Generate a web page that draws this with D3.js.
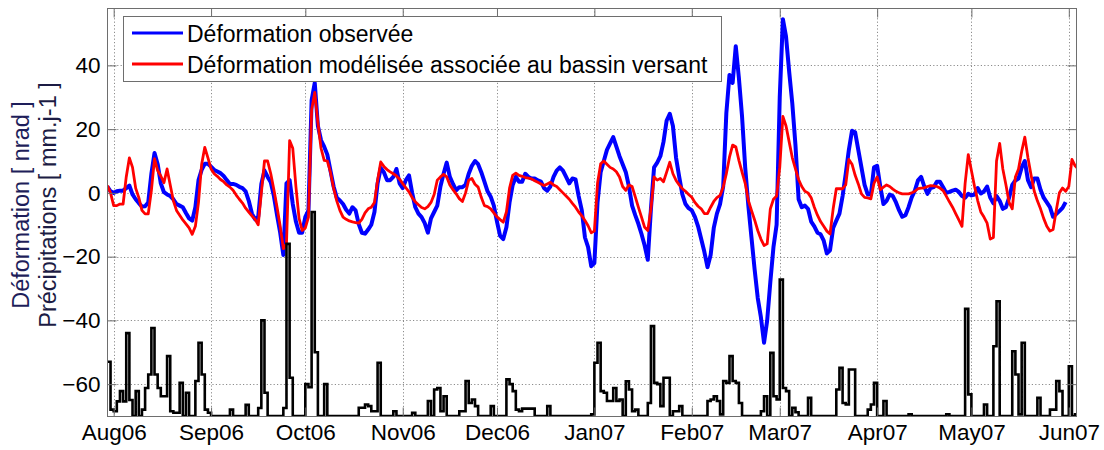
<!DOCTYPE html>
<html>
<head>
<meta charset="utf-8">
<script src="https://cdnjs.cloudflare.com/ajax/libs/d3/7.8.5/d3.min.js"></script>
<style>
  body { margin: 0; background: #fff; }
  svg { display: block; font-family: Arial, "Liberation Sans", sans-serif; }
</style>
</head>
<body>
<svg id="chart" width="1104" height="450"></svg>
<script>
// Daily series, first value on 30 Jul 2006
const firstDay = "2006-07-30";

// Observed tilt deformation [nrad]
const observed = [
  2, 0.5, 0, 0.5, 0.7, 0.7, 1.5, 2.3, -0.5, -2,
  -3.2, -4.3, -4.2, -3, 6, 12.5, 9, 3, 0.2, -0.5,
  -1, -2, -3.5, -4, -4.5, -6.3, -8, -8.7, -4.5, 4,
  7.2, 9.1, 9.1, 8.2, 7.2, 6.7, 6.2, 5.3, 4, 2.8,
  2.8, 2.5, 1.9, 1.5, 0.5, -2.5, -6.5, -8.3, -7.5, 2.8,
  7, 5, 3.3, -1, -7, -12.5, -19.5, 3, 4, -3.5,
  -9, -12.5, -12.5, -7.5, -5.5, 29, 34.5, 21, 16.5, 14.5,
  12, 7, 2, -1.5, -2.4, -3.5, -5.3, -6.5, -4.5, -5.5,
  -9.8, -12.5, -12.8, -11.5, -10, -6, 3, 7.8, 6.5, 4,
  4, 5, 7.5, 3, 1.5, 4, 5.5, 0, -4.5, -6.5,
  -7.6, -9.5, -12.5, -8, -6, -4, 2, 6, 9.5, 5,
  2.8, 0.8, 1.8, 1.8, 2.5, 6, 8.5, 10, 9, 6.5,
  3.5, 0.5, -1.2, -4, -9, -13.5, -14.5, -10.8, -3, 2.5,
  5, 3.5, 3.5, 6, 5, 4.5, 4.5, 3.9, 3.5, 1.5,
  0.7, 2, 5, 7, 8, 7, 5, 3, 4.5, 4.2,
  -1, -5.5, -14, -17, -23, -22, -3, 6.5, 10, 13.5,
  15.5, 17.5, 14.5, 11.5, 9, 6.5, 2, -4, -7, -9.7,
  -12.9, -16.5, -21, -5, 8, 9.5, 11.5, 16, 22.7, 24.8,
  21, 11, 5, -0.5, -3.5, -4.8, -5.5, -7.5, -10.5, -14.5,
  -18.5, -23.3, -19.5, -11, -6.5, -3.5, 2, 25, 37, 34.5,
  46, 36, 24, 8, -4, -14, -24, -33, -39, -47,
  -40, -28, -17, -10, 30, 54.5, 49, 38, 28, 15,
  -2, -4.5, -4, -5, -9, -10.5, -12.5, -13, -15, -19,
  -18, -11, -8.7, -6.5, -1, 6, 13.5, 19.5, 19, 13.5,
  8, 2.5, -0.5, -0.5, 8, 8.5, 2, -3.5, -2.5, -0.5,
  -1, -3, -5.5, -7.5, -7, -4.5, -1.4, 0.7, 3.9, 5,
  2, -0.3, 1.5, 1.8, 3.5, 3.5, 1.8, 0, 0.3, 0.7,
  1, 0.3, -1, -1.5, -0.3, -0.8, -0.5, 1.5, -0.2, 0.5,
  2, -1.5, -3.3, -1, -2.5, -5, -4.5, -1.5, 2.5, 3.9,
  4.5, 8, 10, 4, 1.8, 4.5, 4.5, 1, -1.5, -3,
  -4.5, -7.5, -6.6, -5.7, -4.7, -2.9
];

// Modelled deformation linked to the catchment [nrad]
const modelled = [
  2.3, 0, -4, -4, -3.5, -3.5, 5, 11, 8, 1.5,
  -1.5, -5.5, -6.6, -6.6, 0.7, 10.7, 7, 5.3, 3.2, 7.5,
  2.5, -2.5, -5.5, -7, -8.5, -9.7, -11, -13, -10.5, -3,
  9, 14.3, 11, 7.5, 6, 5.2, 4.2, 3.5, 2.5, 1.8,
  0.8, -0.7, -2, -3.2, -4.8, -6, -7.2, -8.3, -10, 0,
  10, 10, 6, 1, -4.5, -10.5, -17.5, -16, 16.4, 14,
  2, -8, -11.8, -11, -7.6, 26, 31.5, 22, 14, 10.2,
  10, 6.5, 1.5, -2.5, -5.5, -7.6, -8.3, -8.8, -9.1, -9.3,
  -9.5, -8.3, -6.3, -5, -4.5, -3, 4, 9.7, 8.3, 7.3,
  6.6, 6, 5.3, 4.3, 2.9, 1.6, 0.3, -1.5, -2.8, -3.7,
  -4.6, -5, -4.3, -3, -0.5, 4, 5, 5.8, 5, 2.5,
  1, -0.3, -1.8, -2.7, 0, 4, 4.5, 2.7, 1.8, -1.4,
  -4, -4.3, -5, -6.3, -7.5, -8.4, -9.2, -6, 1.5, 5.5,
  6.2, 5.5, 5.2, 4.8, 4.6, 4.4, 3.8, 3.3, 2.8, 2.3,
  2.8, 3.3, 2.5, 2, 1, 0, -1, -2, -3.3, -4.5,
  -6, -7.2, -8.7, -10.3, -12.5, -12, 3, 9.1, 10, 9,
  8, 7.5, 6.6, 5, 2, 0.8, 2.5, 2, -1.2, -4.5,
  -7.6, -10.8, -11.8, -5, 5, 4, 4.5, 3.5, 6.5, 9.6,
  6, 3.9, 2.5, 1.3, 0.5, -0.5, -1.4, -3, -4.2, -5,
  -6.5, -6.5, -4.5, -2.7, -1.5, -0.8, 1.8, 6, 11.2, 15,
  14.5, 10.2, 6.5, 3, -2.4, -5.5, -8.5, -11.8, -14.5, -16.5,
  -16, -5, -2, -1, 8, 24, 21, 16, 11, 7.5,
  4.2, 2, 0.5, 0, -1.5, -4.5, -7, -9, -10.5, -12,
  -12.9, -5, 1.3, 1.3, 1.3, 2.5, 10.5, 9, 5.5, 2.8,
  -0.3, -1.4, -1.6, -1.9, 3, 5, 1, 1.8, 2.5, 2,
  1.2, 0.5, 0, -0.3, -0.3, -0.3, 0, 0.5, 1.3, 1.5,
  1.6, 2, 2.3, 2.2, 2, 1.5, 0.7, -1, -2.8, -4.5,
  -6.5, -8.5, -10.5, 3, 12, 7, 2, -2.4, -6, -7.6,
  -9.5, -14.5, -14, 10, 15.5, 7.5, 2.5, -3, -5, 5,
  7.5, 13, 17.5, 11, 5.5, 0.5, -2.5, -5, -8, -10.5,
  -12, -11.5, -5.5, 0, 1.5, 0.5, 2, 10.5, 8.5, 7.5
];

// Daily rainfall [mm/day], plotted from the -70 baseline
const rain = [
  17, 2, 1.5, 4.6, 7.8, 4.6, 26, 5, 0, 7.8,
  0, 2, 8.8, 13, 27.6, 13, 8.8, 6.2, 6.2, 18.8,
  1.5, 1, 1, 10.4, 0, 7.3, 0, 0, 11, 23,
  13, 2, 1, 0, 0, 0, 0, 0, 0, 2,
  0, 0, 0, 0, 3.5, 0, 0, 0, 2.5, 30,
  7.3, 0, 0, 0, 0, 0, 2.5, 54, 12, 0,
  0, 0, 0, 10, 9, 64, 20, 0, 0, 10,
  0, 0, 0, 0, 0, 0, 0, 0, 0, 0,
  2.6, 2.6, 3.6, 3.1, 1.5, 1.5, 16.7, 0, 0, 0,
  0, 1.5, 0, 0, 0, 0, 0, 1, 0, 0,
  0, 0, 4.7, 0, 8.3, 8.8, 1.5, 6.2, 0, 0,
  0, 0, 1.5, 1.5, 11, 4.1, 5.2, 3.1, 0, 0,
  0, 0, 3.1, 0, 0, 0, 0, 11.5, 10, 7.8,
  2, 1.5, 2.3, 2.3, 2.3, 2.3, 0, 0, 0, 0,
  3.1, 0, 0, 0, 0, 0, 0, 0, 0, 0,
  0, 0, 0, 0, 0.5, 16.7, 23, 7.8, 7.3, 4.7,
  4.7, 8.8, 4.7, 5.2, 0, 10.9, 8.3, 1.5, 2, 0,
  0, 0, 4.1, 28.2, 10.4, 10, 3.1, 12, 12, 0,
  1.5, 1.5, 3.1, 0, 0, 0, 0, 0, 0, 0,
  0, 4.7, 5.2, 6.2, 4.7, 0.5, 11, 10.4, 18.8, 11,
  10.4, 4.1, 0, 0, 0, 0, 0, 0, 1.5, 6.2,
  0, 19.8, 6.2, 5.2, 42.8, 8.8, 7.8, 0, 2.6, 1.2,
  0, 0, 0, 5.7, 0, 0, 0, 0, 0, 0,
  0, 0, 8.3, 15.1, 4.1, 3.6, 14.6, 14.6, 0, 0,
  0, 0, 2, 3.6, 10.4, 0, 0, 4.7, 0, 0,
  0, 0, 0, 0, 0, 0.5, 0, 0, 0, 0,
  0, 0, 0, 0, 0, 0, 0, 0.5, 0, 0,
  0, 0, 0, 33.6, 6.8, 0, 0, 0, 0, 3.6,
  0, 0, 21.9, 36, 0, 0, 0, 0, 20.3, 13,
  0.5, 23, 0, 0, 0, 0, 5.7, 0, 0, 0,
  2, 2, 11, 7.8, 0, 0, 15.6, 0, 0.5
];
const rainBaseline = -70;

const monthTicks = ["2006-08-01", "2006-09-01", "2006-10-01", "2006-11-01", "2006-12-01",
  "2007-01-01", "2007-02-01", "2007-03-01", "2007-04-01", "2007-05-01", "2007-06-01"];
const monthLabels = ["Aug06", "Sep06", "Oct06", "Nov06", "Dec06",
  "Jan07", "Feb07", "Mar07", "Apr07", "May07", "Jun07"];
const yTicks = [-60, -40, -20, 0, 20, 40];
const yDomain = [-70, 58];

const legendLabels = ["Déformation observée", "Déformation modélisée associée au bassin versant"];
const axisTitle = ["Déformation [ nrad ]", "Précipitations [ mm.j-1 ]"];

// ---------------------------------------------------------------
const svg = d3.select("#chart");
const box = { left: 107, right: 1076, top: 8, bottom: 416 };
const parse = s => new Date(s + "T00:00:00Z");
const start = parse(firstDay);
const dayDate = i => d3.utcDay.offset(start, i);

const x = d3.scaleUtc()
  .domain([new Date(Date.UTC(2006, 6, 29, 21)), new Date(Date.UTC(2007, 5, 3, 7))])
  .range([box.left, box.right]);
const y = d3.scaleLinear().domain(yDomain).range([box.bottom, box.top]);

const tickDates = monthTicks.map(parse);

svg.append("defs").append("clipPath").attr("id", "plotClip")
  .append("rect")
  .attr("x", box.left).attr("y", box.top)
  .attr("width", box.right - box.left).attr("height", box.bottom - box.top);

// white plot background
svg.append("rect")
  .attr("x", box.left).attr("y", box.top)
  .attr("width", box.right - box.left).attr("height", box.bottom - box.top)
  .attr("fill", "#fff");

// dotted grid
const grid = svg.append("g").attr("stroke", "#8c8c8c").attr("stroke-width", 1)
  .attr("stroke-dasharray", "1.2,2.2");
grid.selectAll("line.h").data(yTicks).join("line").attr("class", "h")
  .attr("x1", box.left).attr("x2", box.right)
  .attr("y1", d => Math.round(y(d)) + 0.5).attr("y2", d => Math.round(y(d)) + 0.5);
grid.selectAll("line.v").data(tickDates).join("line").attr("class", "v")
  .attr("y1", box.top).attr("y2", box.bottom)
  .attr("x1", d => Math.round(x(d)) + 0.5).attr("x2", d => Math.round(x(d)) + 0.5);

const plot = svg.append("g").attr("clip-path", "url(#plotClip)");

const line = d3.line()
  .x((d, i) => x(dayDate(i)))
  .y(d => y(d));

plot.append("path").datum(observed)
  .attr("fill", "none").attr("stroke", "#0000ff").attr("stroke-width", 4)
  .attr("stroke-linejoin", "round").attr("d", line);

plot.append("path").datum(modelled)
  .attr("fill", "none").attr("stroke", "#ff0000").attr("stroke-width", 2.8)
  .attr("stroke-linejoin", "round").attr("d", line);

// rainfall as daily stairs above the baseline
const rainPts = rain.map((v, i) => [dayDate(i), rainBaseline + v]);
rainPts.push([dayDate(rain.length), rainBaseline + rain[rain.length - 1]]);
const stairs = d3.line().curve(d3.curveStepAfter)
  .x(d => x(d[0])).y(d => y(d[1]));
plot.append("path").datum(rainPts)
  .attr("fill", "none").attr("stroke", "#000").attr("stroke-width", 2.6)
  .attr("stroke-linejoin", "miter").attr("d", stairs);

// frame
svg.append("rect")
  .attr("x", box.left + 0.5).attr("y", box.top + 0.5)
  .attr("width", box.right - box.left).attr("height", box.bottom - box.top)
  .attr("fill", "none").attr("stroke", "#6e6e6e").attr("stroke-width", 1);

// axes with inward ticks on all four sides
const tickLen = 9;
const fontSize = "22.5px";

const gLeft = svg.append("g").attr("transform", `translate(${box.left + 0.5},0)`)
  .call(d3.axisLeft(y).tickValues(yTicks).tickSizeInner(-tickLen).tickSizeOuter(0).tickPadding(7));
const gRight = svg.append("g").attr("transform", `translate(${box.right + 0.5},0)`)
  .call(d3.axisRight(y).tickValues(yTicks).tickSizeInner(-tickLen).tickSizeOuter(0).tickFormat(""));
const gBottom = svg.append("g").attr("transform", `translate(0,${box.bottom + 0.5})`)
  .call(d3.axisBottom(x).tickValues(tickDates).tickSizeInner(-tickLen).tickSizeOuter(0)
    .tickPadding(8).tickFormat((d, i) => monthLabels[i]));
const gTop = svg.append("g").attr("transform", `translate(0,${box.top + 0.5})`)
  .call(d3.axisTop(x).tickValues(tickDates).tickSizeInner(-tickLen).tickSizeOuter(0).tickFormat(""));

[gLeft, gRight, gBottom, gTop].forEach(g => {
  g.select(".domain").remove();
  g.selectAll(".tick line").attr("stroke", "#6e6e6e");
  g.selectAll("text").attr("font-size", fontSize).attr("fill", "#000")
    .attr("font-family", "Arial, 'Liberation Sans', sans-serif");
});

// two-line y-axis title
const titleColors = ["#1e1e5a", "#1c1c44"];
const titleX = [29, 56];
axisTitle.forEach((t, i) => {
  svg.append("text")
    .attr("transform", `translate(${titleX[i]},205) rotate(-90)`)
    .attr("text-anchor", "middle")
    .attr("font-size", "23.5px")
    .attr("fill", titleColors[i])
    .text(t);
});

// legend
const leg = svg.append("g");
leg.append("rect")
  .attr("x", 123.5).attr("y", 16.5).attr("width", 598).attr("height", 65)
  .attr("fill", "#fff").attr("stroke", "#6e6e6e").attr("stroke-width", 1);
const legColors = ["#0000ff", "#ff0000"];
const legY = [33, 64];
legendLabels.forEach((t, i) => {
  leg.append("line")
    .attr("x1", 132).attr("x2", 183).attr("y1", legY[i]).attr("y2", legY[i])
    .attr("stroke", legColors[i]).attr("stroke-width", 2.8);
  leg.append("text")
    .attr("x", 187).attr("y", legY[i] + 8.5)
    .attr("font-size", "23px").attr("fill", "#000")
    .text(t);
});
</script>
</body>
</html>
